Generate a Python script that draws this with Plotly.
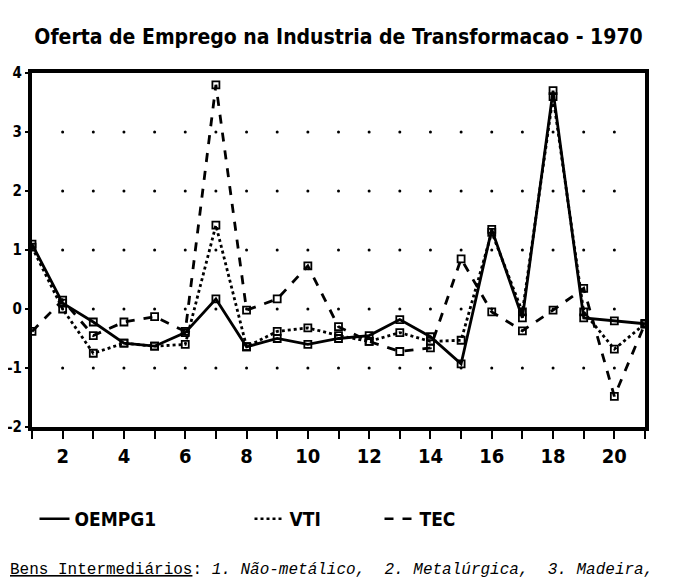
import plotly.graph_objects as go

# periodos / setores 1..21
setores = list(range(1, 22))

oempg1 = [1.10, 0.10, -0.22, -0.58, -0.63, -0.40, 0.17, -0.64, -0.50, -0.60, -0.50,
          -0.45, -0.18, -0.47, -0.93, 1.35, -0.15, 3.70, -0.15, -0.20, -0.25]
vti = [1.05, 0.00, -0.75, -0.58, -0.63, -0.60, 1.42, -0.64, -0.38, -0.32, -0.45,
       -0.55, -0.40, -0.55, -0.53, 1.30, -0.05, 3.60, -0.05, -0.68, -0.25]
tec = [-0.38, 0.15, -0.45, -0.22, -0.13, -0.38, 3.80, -0.02, 0.17, 0.73, -0.30,
       -0.55, -0.72, -0.66, 0.85, -0.05, -0.37, -0.02, 0.35, -1.48, -0.25]

y_ticks = [4, 3, 2, 1, 0, -1, -2]
x_ticks = list(range(1, 22))
x_labels = [str(v) if v % 2 == 0 else "" for v in x_ticks]

# pontos da grade (so nas posicoes inteiras)
grid_x = list(range(2, 21))
grid_y = [3, 2, 1, 0, -1]

FONT_NARROW = "Liberation Sans Narrow, DejaVu Sans Condensed, Arial Narrow, sans-serif"

# a pagina tem margem de 8px no body -> figura um pouco menor
W, H = 670, 574
ML, MR, MT, MB = 24, 33, 65, 155
PW = W - ML - MR
PH = H - MT - MB

fig = go.Figure()

gx, gy = [], []
for yy in grid_y:
    for xx in grid_x:
        gx.append(xx)
        gy.append(yy)
fig.add_trace(go.Scatter(x=gx, y=gy, mode="markers",
                         marker=dict(size=3, color="black"),
                         hoverinfo="skip", showlegend=False))

series = [("OEMPG1", oempg1, "solid", "legend"),
          ("VTI", vti, "dot", "legend2"),
          ("TEC", tec, "dash", "legend3")]

for name, vals, dash, leg in series:
    fig.add_trace(go.Scatter(
        x=setores, y=vals, mode="lines+markers", name=name,
        line=dict(color="black", width=2.8, dash=dash),
        marker=dict(symbol="square-open", size=7, color="black", line=dict(width=1.8)),
        showlegend=False))
    # entrada de legenda sem marcador
    fig.add_trace(go.Scatter(
        x=[None], y=[None], mode="lines", name=name,
        line=dict(color="black", width=2.5, dash=dash),
        legend=leg, showlegend=True))

leg_font = dict(family=FONT_NARROW, size=19, color="black", weight="bold")
leg_y = -(511 - (MT + PH)) / PH
legend_common = dict(orientation="h", yanchor="middle", y=leg_y, xanchor="left",
                     font=leg_font, bgcolor="rgba(0,0,0,0)", borderwidth=0)

fig.update_layout(
    width=W, height=H,
    paper_bgcolor="white", plot_bgcolor="white",
    margin=dict(l=ML, r=MR, t=MT, b=MB, autoexpand=False),
    title=dict(text="Oferta de Emprego na Industria de Transformacao - 1970",
               x=(ML + PW / 2) / W, xanchor="center", y=1 - 29 / H, yanchor="middle",
               font=dict(family=FONT_NARROW, size=21, color="black", weight="bold")),
    xaxis=dict(range=[1, 21], tickmode="array", tickvals=x_ticks, ticktext=x_labels,
               ticks="outside", ticklen=8, tickwidth=2, tickcolor="black",
               showline=True, linewidth=4, linecolor="black", mirror=True,
               showgrid=False, zeroline=False, automargin=False,
               tickfont=dict(family=FONT_NARROW, size=20, color="black", weight="bold")),
    yaxis=dict(range=[-2, 4], tickmode="array", tickvals=y_ticks,
               ticktext=[str(v) for v in y_ticks],
               ticks="outside", ticklen=3, tickwidth=2, tickcolor="black",
               showline=True, linewidth=4, linecolor="black", mirror=True,
               showgrid=False, zeroline=False, automargin=False,
               tickfont=dict(family=FONT_NARROW, size=15, color="black", weight="bold")),
    legend=dict(x=(26.5 - ML) / PW, **legend_common),
    legend2=dict(x=(241.5 - ML) / PW, **legend_common),
    legend3=dict(x=(371.5 - ML) / PW, **legend_common),
    annotations=[dict(
        text="<u>Bens Intermediários</u>: <i>1. Não-metálico,  2. Metalúrgica,  3. Madeira,</i>",
        xref="paper", yref="paper", x=-ML / PW, y=-(562 - (MT + PH)) / PH,
        xanchor="left", yanchor="middle", showarrow=False,
        font=dict(family="Liberation Mono, DejaVu Sans Mono, monospace", size=16, color="black"))],
)

fig.write_html("out.html")
